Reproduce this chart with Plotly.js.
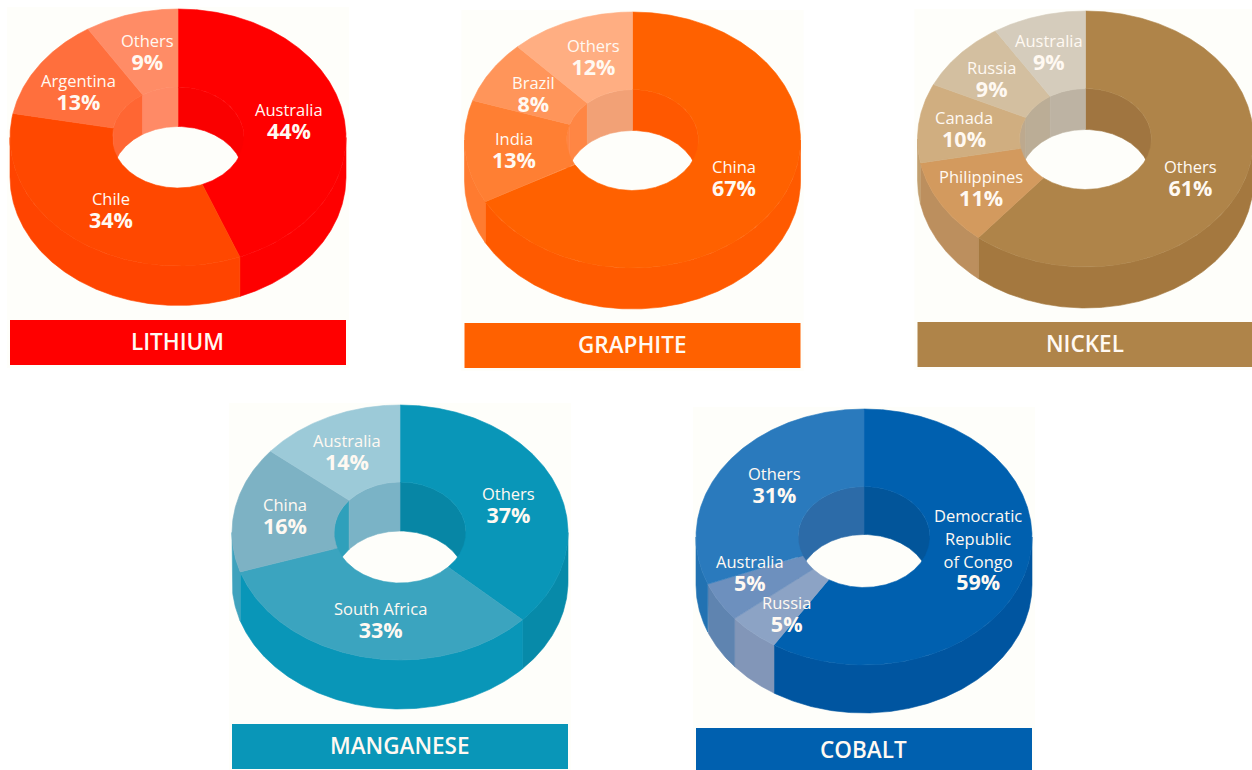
<!DOCTYPE html>
<html>
<head>
<meta charset="utf-8">
<script src="https://cdn.plot.ly/plotly-3.0.1.min.js"></script>
<style>html,body{margin:0;padding:0;background:#fff}#chart{width:1252px;height:770px}</style>
</head>
<body>
<div id="chart"></div>
<script>
// Share of global supply per mineral, in percent, clockwise from 12 o'clock.
const lithiumNames = ['Australia', 'Chile', 'Argentina', 'Others'];
const lithiumShares = [44, 34, 13, 9];
const graphiteNames = ['China', 'India', 'Brazil', 'Others'];
const graphiteShares = [67, 13, 8, 12];
const nickelNames = ['Others', 'Philippines', 'Canada', 'Russia', 'Australia'];
const nickelShares = [61, 11, 10, 9, 9];
const manganeseNames = ['Others', 'South Africa', 'China', 'Australia'];
const manganeseShares = [37, 33, 16, 14];
const cobaltNames = ['Democratic<br>Republic<br>of Congo', 'Russia', 'Australia', 'Others'];
const cobaltShares = [59, 5, 5, 31];

// Ring proportions shared by all five discs, in page pixels.
const RX = 168, INNER_RX = 66, INNER_RY = 50.5, BANNER_H = 45;

const charts = [
  { title: 'LITHIUM', names: lithiumNames, shares: lithiumShares, cx: 178, top: 9, ry: 128.5, depth: 39.5, bannerTop: 320,
    face: ['#FF0000', '#FF4800', '#FF6F3D', '#FF8C66'],
    side: ['#FE0000', '#FF4400', '#FF6A35', '#FF8458'],
    wall: ['#FA0000', '#FF4E10', '#FF6633', '#FF8A66'],
    banner: '#FF0000',
    labelX: [289, 111, 78, 147], labelY: [121.5, 210, 92, 52] },
  { title: 'GRAPHITE', names: graphiteNames, shares: graphiteShares, cx: 632.5, top: 12, ry: 128, depth: 41, bannerTop: 323,
    face: ['#FF6100', '#FF7F33', '#FF955A', '#FFAE82'],
    side: ['#FF5A00', '#FF7B30', '#FF8F50', '#FFA878'],
    wall: ['#FF5800', '#FF8544', '#FF8644', '#F2A176'],
    banner: '#FF6100',
    labelX: [734, 514, 533, 593], labelY: [178.5, 150, 94, 57] },
  { title: 'NICKEL', names: nickelNames, shares: nickelShares, cx: 1085.5, top: 11, ry: 128, depth: 41, bannerTop: 322,
    face: ['#AF8449', '#D39A5E', '#D0AE80', '#D3BFA0', '#D5CCBC'],
    side: ['#A4783F', '#BC8F5E', '#C2A070', '#C8B090', '#C8BCA8'],
    wall: ['#A07540', '#BC8F5E', '#BDA98E', '#BBAD96', '#BDB3A3'],
    banner: '#AF8449',
    labelX: [1190, 981, 964, 991, 1049], labelY: [178.5, 188.5, 129.5, 79, 52.5] },
  { title: 'MANGANESE', names: manganeseNames, shares: manganeseShares, cx: 400, top: 405, ry: 127.5, depth: 49, bannerTop: 724,
    face: ['#0996B8', '#3BA4BF', '#7DB2C4', '#9CCAD8'],
    side: ['#078AA9', '#0996B8', '#3FA2BD', '#7AB3C6'],
    wall: ['#0786A5', '#0996B8', '#2FA0BB', '#7AB3C6'],
    banner: '#0996B8',
    labelX: [508, 380, 285, 347], labelY: [505, 620, 516.5, 452.5] },
  { title: 'COBALT', names: cobaltNames, shares: cobaltShares, cx: 864, top: 409, ry: 128, depth: 48, bannerTop: 728,
    face: ['#0060AF', '#8CA3C5', '#6D90BE', '#2A7ABD'],
    side: ['#0055A0', '#8296B8', '#5F84B0', '#2272B2'],
    wall: ['#02559A', '#8296B8', '#5F84B0', '#2C6BA8'],
    banner: '#0060AF',
    labelX: [978, 786, 750, 774], labelY: [549.5, 614.5, 573.5, 485.5] }
];

const toRad = d => d * Math.PI / 180;

// Point on an ellipse, angle measured clockwise from the top.
function onEllipse(c, rx, ry, deg, dy) {
  return [c.cx + rx * Math.sin(toRad(deg)), c.cy - ry * Math.cos(toRad(deg)) + dy];
}

// Walks an arc in half-degree steps, both ways round.
function arc(c, rx, ry, from, to, dy) {
  const pts = [], n = Math.max(2, Math.ceil(Math.abs(to - from) * 2));
  for (let i = 0; i <= n; i++) pts.push(onEllipse(c, rx, ry, from + (to - from) * i / n, dy));
  return pts;
}

function polygonTrace(name, pts, color) {
  const closed = pts.concat([pts[0]]);
  return {
    type: 'scatter', mode: 'lines', name: name.replace(/<br>/g, ' '), showlegend: false,
    x: closed.map(p => p[0]), y: closed.map(p => p[1]),
    fill: 'toself', fillcolor: color,
    line: { color: color, width: 0.6 },
    hoverinfo: 'name'
  };
}

// Clips a slice span against a visible angular window.
function overlap(a, b, lo, hi) {
  const s = Math.max(a, lo), e = Math.min(b, hi);
  return e > s ? [s, e] : null;
}

// Country name in the regular weight, share beneath it in bold.
function labelText(name, share) {
  const lines = name.split('<br>').map(l => '<span style="font-size:16.5px">' + l + '</span>');
  return lines.join('<br>') + '<br><b><span style="font-size:21.5px">' + share + '%</span></b>';
}

const traces = [], shapes = [], annotations = [];

charts.forEach(c => {
  c.cy = c.top + c.ry;
  const total = c.shares.reduce((s, v) => s + v, 0);

  shapes.push({ type: 'rect', layer: 'below', xref: 'x', yref: 'y',
    x0: c.cx - 171, x1: c.cx + 171, y0: c.top - 2, y1: c.bannerTop + BANNER_H + 3,
    fillcolor: '#FEFEFA', line: { width: 0 } });
  shapes.push({ type: 'rect', layer: 'below', xref: 'x', yref: 'y',
    x0: c.cx - RX, x1: c.cx + RX, y0: c.bannerTop, y1: c.bannerTop + BANNER_H,
    fillcolor: c.banner, line: { width: 0 } });
  annotations.push({ x: c.cx - 0.5, y: c.bannerTop + BANNER_H / 2 - 1, xref: 'x', yref: 'y', showarrow: false,
    text: c.title, font: { family: 'Open Sans, sans-serif', size: 22.5, weight: 600, color: '#FFF9F2' } });

  const spans = [];
  let acc = 0;
  c.shares.forEach(v => {
    const a = acc / total * 360;
    acc += v;
    spans.push([a, acc / total * 360]);
  });

  // Outer rim: only the front half of the disc is visible.
  spans.forEach(([a, b], i) => {
    const o = overlap(a, b, 90, 270);
    if (!o) return;
    traces.push(polygonTrace(c.names[i] + ' rim',
      arc(c, RX, c.ry, o[0], o[1], 0).concat(arc(c, RX, c.ry, o[1], o[0], c.depth)), c.side[i]));
  });

  // Wall of the hole: only the far half is visible.
  spans.forEach(([a, b], i) => {
    [[0, 90], [270, 360]].forEach(([lo, hi]) => {
      const o = overlap(a, b, lo, hi);
      if (!o) return;
      traces.push(polygonTrace(c.names[i] + ' wall',
        arc(c, INNER_RX, INNER_RY, o[0], o[1], 0).concat(arc(c, INNER_RX, INNER_RY, o[1], o[0], c.depth)), c.wall[i]));
    });
  });

  // Top face of each slice.
  spans.forEach(([a, b], i) => {
    traces.push(polygonTrace(c.names[i],
      arc(c, RX, c.ry, a, b, 0).concat(arc(c, INNER_RX, INNER_RY, b, a, 0)), c.face[i]));
  });

  c.names.forEach((name, i) => {
    annotations.push({
      x: c.labelX[i], y: c.labelY[i], xref: 'x', yref: 'y', showarrow: false, align: 'center',
      text: labelText(name, c.shares[i]),
      font: { family: 'Open Sans, sans-serif', size: 17.5, color: '#FFF9F2' }
    });
  });
});

Plotly.newPlot('chart', traces, {
  width: 1252, height: 770, autosize: false, showlegend: false,
  margin: { l: 0, r: 0, t: 0, b: 0, pad: 0 },
  paper_bgcolor: '#FFFFFF', plot_bgcolor: 'rgba(0,0,0,0)',
  xaxis: { range: [0, 1252], visible: false, fixedrange: true },
  yaxis: { range: [770, 0], visible: false, fixedrange: true },
  shapes: shapes, annotations: annotations
}, { displayModeBar: false });
</script>
</body>
</html>
